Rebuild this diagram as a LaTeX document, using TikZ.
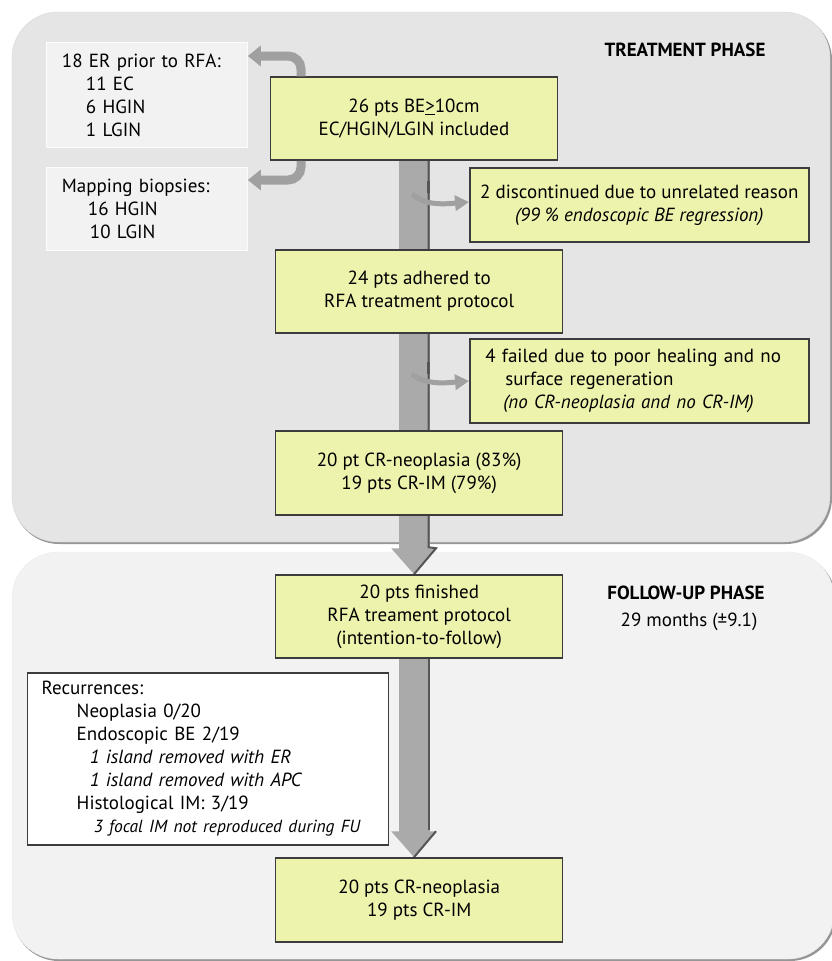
\documentclass[tikz,border=0pt]{standalone}
\usepackage{fontspec}
\setmainfont{PT Sans}
\usetikzlibrary{arrows.meta,backgrounds}

\definecolor{toppanel}{RGB}{229,229,229}
\definecolor{botpanel}{RGB}{242,242,242}
\definecolor{panelshade}{RGB}{150,150,150}
\definecolor{boxyellow}{RGB}{237,242,172}
\definecolor{boxline}{RGB}{60,60,60}
\definecolor{sidefill}{RGB}{242,242,242}
\definecolor{shaftgray}{RGB}{170,170,170}
\definecolor{shaftdark}{RGB}{85,85,85}
\definecolor{curvegray}{RGB}{160,160,160}

\tikzset{
  flowbox/.style={draw=boxline,fill=boxyellow,line width=1.5pt,align=center,inner sep=0pt},
  sidebox/.style={draw=white!80!sidefill,fill=sidefill,line width=0.8pt,align=left,inner sep=0pt,anchor=north west},
  recbox/.style={draw=boxline,fill=white,line width=1.5pt,align=left,inner sep=0pt,anchor=north west},
  shaft/.style={draw=shaftgray,line width=31pt,-{Triangle[width=44pt,length=26pt]}},
  shaftedge/.style={draw=shaftdark,line width=2pt},
  bendarrow/.style={draw=curvegray,line width=9pt,rounded corners=13pt,-{Triangle[width=20pt,length=13pt]}},
  sidearrow/.style={draw=curvegray,line width=5pt,-{Triangle[width=15pt,length=14pt]}},
  notch/.style={draw=shaftdark,line width=3pt}
}

\begin{document}
\begin{tikzpicture}[x=1pt,y=-1pt,font=\fontsize{19}{23}\selectfont]
\useasboundingbox (0,0) rectangle (832,961);

\begin{pgfonlayer}{background}
\fill[panelshade,rounded corners=46pt] (13,14) rectangle (832,544);
\fill[toppanel,draw=gray!30,rounded corners=46pt] (12,12) rectangle (830,542);
\fill[panelshade,rounded corners=46pt] (13,554) rectangle (836,961);
\fill[botpanel,draw=gray!15,rounded corners=46pt] (12,552) rectangle (834,959);
\end{pgfonlayer}

\node[font=\fontsize{19}{23}\selectfont\bfseries] (treat) at (685,50) {TREATMENT PHASE};
\node[font=\fontsize{19}{23}\selectfont\bfseries] (follow) at (686,593) {FOLLOW-UP PHASE};
\node (months) at (689,622) {29 months (±9.1)};

\node[sidebox,minimum width=201pt,minimum height=105pt,text width=170pt] (er) at (46,42) {18 ER prior to RFA:\\\hspace*{24pt}11 EC\\\hspace*{24pt}6 HGIN\\\hspace*{24pt}1 LGIN};
\node[sidebox,minimum width=201pt,minimum height=83pt,text width=170pt] (map) at (46,167) {Mapping biopsies:\\\hspace*{26pt}16 HGIN\\\hspace*{28pt}10 LGIN};

\node[flowbox,minimum width=287pt,minimum height=83pt] (incl) at (414,118.5) {26 pts BE\underline{>}10cm\\EC/HGIN/LGIN included};
\node[flowbox,minimum width=339pt,minimum height=74pt] (disc) at (639.3,205) {2 discontinued due to unrelated reason\\\textit{(99~\% endoscopic BE regression)}};
\node[flowbox,minimum width=287pt,minimum height=83pt] (adh) at (419.2,291.5) {24 pts adhered to\\RFA treatment protocol};
\node[flowbox,minimum width=339pt,minimum height=84pt,text width=308pt,align=left] (fail) at (639.3,381) {4 failed due to poor healing and no\\\hspace*{20pt}surface regeneration\\\hspace*{18pt}\textit{(no CR-neoplasia and no CR-IM)}};
\node[flowbox,minimum width=287pt,minimum height=84pt] (cr) at (419.2,473) {20 pt CR-neoplasia (83\%)\\19 pts CR-IM (79\%)};
\node[flowbox,minimum width=287pt,minimum height=83pt] (fin) at (419.2,616.5) {20 pts finished\\RFA treament protocol\\(intention-to-follow)};
\node[recbox,minimum width=361pt,minimum height=172pt,text width=340pt] (rec) at (26.5,672) {\hspace*{4pt}Recurrences:\\\hspace*{39pt}Neoplasia 0/20\\\hspace*{39pt}Endoscopic BE 2/19\\\hspace*{52pt}\textit{1 island removed with ER}\\\hspace*{52pt}\textit{1 island removed with APC}\\\hspace*{39pt}Histological IM: 3/19\\\hspace*{56pt}{\fontsize{17.5}{23}\selectfont\textit{3 focal IM not reproduced during FU}}};
\node[flowbox,minimum width=287pt,minimum height=84pt] (final) at (419.2,900) {20 pts CR-neoplasia\\19 pts CR-IM};

\coordinate (tip1) at (incl.south |- fin.north);
\coordinate (tip2) at (incl.south |- final.north);
\begin{pgfonlayer}{background}
\draw[shaft] (incl.south) -- (tip1);
\draw[shaftedge] ([xshift=14.5pt]incl.south) -- ([xshift=14.5pt,yshift=27pt]tip1) -- ([xshift=22pt,yshift=26pt]tip1) -- (tip1);
\draw[shaft] (incl.south |- fin.south) -- (tip2);
\draw[shaftedge] ([xshift=14.5pt]incl.south |- fin.south) -- ([xshift=14.5pt,yshift=27pt]tip2);
\draw[shaftedge] ([xshift=22pt,yshift=26pt]tip2) -- (tip2);
\end{pgfonlayer}

\draw[bendarrow] ([xshift=-113pt]incl.north) |- ([yshift=-14pt]er.north east);
\draw[bendarrow] ([xshift=-113pt]incl.south) |- ([yshift=-13pt]map.north east);

\coordinate (out1) at (412,194);
\coordinate (out2) at (412,374);
\draw[notch] (428,181) -- (428,193);
\draw[notch] (428,362) -- (428,374);
\draw[sidearrow] (out1) .. controls (425,206) and (445,204) .. ([yshift=3pt]disc.west);
\draw[sidearrow] (out2) .. controls (425,385) and (445,383) .. (fail.west);
\end{tikzpicture}
\end{document}
